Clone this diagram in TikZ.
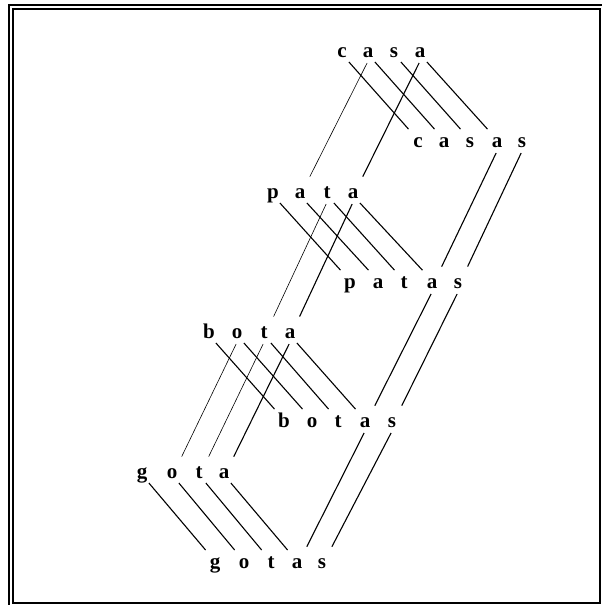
\documentclass[tikz,border=0pt]{standalone}
\usepackage{fontspec}
\setmainfont{Liberation Serif}
\begin{document}
\begin{tikzpicture}[x=1pt,y=-1pt,
  L/.style={font=\fontsize{21}{21}\selectfont\bfseries, inner sep=0pt, text height=10pt, text depth=0pt,
            minimum width=12pt, minimum height=18pt, anchor=center},
  dr/.style={line width=1.1pt, shorten <=1pt, shorten >=5pt},
  dl/.style={line width=1.1pt, shorten <=2pt, shorten >=8pt},
  dlt/.style={line width=0.6pt, shorten <=2pt, shorten >=8pt},
  frame/.style={line width=2pt}]
\useasboundingbox (0,0) rectangle (602,605);
% frame
\draw[frame] (9,612) -- (9,5) -- (612,5);
\draw[frame] (13,603) -- (13,9) -- (600,9) -- (600,603) -- cycle;
% casa
\node[L] (ca1) at (342,52) {c};
\node[L] (ca2) at (368,52) {a};
\node[L] (ca3) at (394,52) {s};
\node[L] (ca4) at (420,52) {a};
% casas
\node[L] (cs1) at (418,142) {c};
\node[L] (cs2) at (444,142) {a};
\node[L] (cs3) at (470,142) {s};
\node[L] (cs4) at (497,142) {a};
\node[L] (cs5) at (522,142) {s};
% pata
\node[L] (pa1) at (273,193) {p};
\node[L] (pa2) at (300,193) {a};
\node[L] (pa3) at (327,193) {t};
\node[L] (pa4) at (353,193) {a};
% patas
\node[L] (ps1) at (350,283) {p};
\node[L] (ps2) at (378,283) {a};
\node[L] (ps3) at (404,283) {t};
\node[L] (ps4) at (432,283) {a};
\node[L] (ps5) at (458,283) {s};
% bota
\node[L] (ba1) at (209,333) {b};
\node[L] (ba2) at (237,333) {o};
\node[L] (ba3) at (264,333) {t};
\node[L] (ba4) at (290,333) {a};
% botas
\node[L] (bs1) at (284,422) {b};
\node[L] (bs2) at (312,422) {o};
\node[L] (bs3) at (338,422) {t};
\node[L] (bs4) at (365,422) {a};
\node[L] (bs5) at (392,422) {s};
% gota
\node[L] (ga1) at (142,473) {g};
\node[L] (ga2) at (172,473) {o};
\node[L] (ga3) at (199,473) {t};
\node[L] (ga4) at (224,473) {a};
% gotas
\node[L] (gs1) at (215,563) {g};
\node[L] (gs2) at (244,563) {o};
\node[L] (gs3) at (271,563) {t};
\node[L] (gs4) at (297,563) {a};
\node[L] (gs5) at (322,563) {s};
% singular -> plural (down-right)
\foreach \a in {c,p,b,g}{
  \foreach \i in {1,2,3,4}{
    \draw[dr] (\a a\i.south east) -- (\a s\i.north west);
  }
}
% vertical links (down-left)
\draw[dlt] (ca2.south) -- (pa2.north east);
\draw[dl]  (ca4.south) -- (pa4.north east);
\draw[dl]  (cs4.south) -- (ps4.north east);
\draw[dl]  (cs5.south) -- (ps5.north east);
\draw[dlt] (pa3.south) -- (ba3.north east);
\draw[dl]  (pa4.south) -- (ba4.north east);
\draw[dl]  (ps4.south) -- (bs4.north east);
\draw[dl]  (ps5.south) -- (bs5.north east);
\draw[dlt] (ba2.south) -- (ga2.north east);
\draw[dlt] (ba3.south) -- (ga3.north east);
\draw[dl]  (ba4.south) -- (ga4.north east);
\draw[dl]  (bs4.south) -- (gs4.north east);
\draw[dl]  (bs5.south) -- (gs5.north east);
\end{tikzpicture}
\end{document}
